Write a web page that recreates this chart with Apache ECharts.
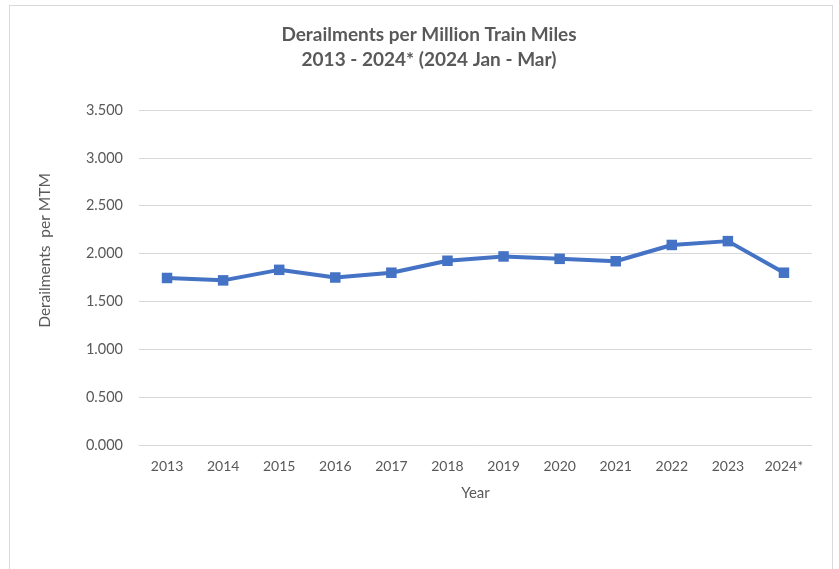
<!DOCTYPE html>
<html>
<head>
<meta charset="utf-8">
<script src="https://cdn.jsdelivr.net/npm/echarts@6/dist/echarts.min.js"></script>
<style>
  html, body { margin: 0; padding: 0; background: #fff; }
  #frame { position: absolute; left: 9px; top: 5px; width: 822px; height: 580px; border: 1px solid #d9d9d9; }
  #chart { position: absolute; left: 0; top: 0; width: 839px; height: 569px; }
</style>
</head>
<body>
<div id="frame"></div>
<div id="chart"></div>
<script>
// categories + values
var years = ['2013', '2014', '2015', '2016', '2017', '2018', '2019', '2020', '2021', '2022', '2023', '2024*']
var derailRate = [1.745, 1.72, 1.83, 1.75, 1.80, 1.925, 1.97, 1.945, 1.92, 2.09, 2.13, 1.80]

var font = 'Lato, "Open Sans", sans-serif'
var grey = '#595959'

var chart = echarts.init(document.getElementById('chart'))
chart.setOption({
  animation: false,
  title: {
    text: 'Derailments per Million Train Miles\n2013 - 2024* (2024 Jan - Mar)',
    left: 424,
    textAlign: 'center',
    top: 17,
    textStyle: { fontFamily: font, fontSize: 19, fontWeight: 'bold', color: grey, lineHeight: 25 }
  },
  grid: { left: 139, right: 27, top: 110, bottom: 124 },
  xAxis: {
    type: 'category',
    data: years,
    boundaryGap: true,
    name: 'Year',
    nameLocation: 'middle',
    nameGap: 41,
    nameTextStyle: { fontFamily: font, fontSize: 15, color: grey },
    axisLine: { lineStyle: { color: '#d9d9d9', width: 1 } },
    axisTick: { show: false },
    axisLabel: { margin: 14, fontFamily: font, fontSize: 14, color: grey }
  },
  yAxis: {
    type: 'value',
    min: 0,
    max: 3.5,
    interval: 0.5,
    name: 'Derailments  per MTM',
    nameLocation: 'middle',
    nameGap: 86,
    nameRotate: 90,
    nameTextStyle: { fontFamily: font, fontSize: 15.5, color: grey, padding: [0, 0, 0, 54] },
    axisLine: { show: false },
    axisTick: { show: false },
    splitLine: { lineStyle: { color: '#d9d9d9', width: 1 } },
    axisLabel: {
      margin: 16,
      fontFamily: font,
      fontSize: 14.5,
      color: grey,
      formatter: function (v) { return v.toFixed(3) }
    }
  },
  series: [{
    type: 'line',
    data: derailRate,
    symbol: 'rect',
    symbolSize: 10.5,
    lineStyle: { color: '#4472c4', width: 4 },
    itemStyle: { color: '#4472c4' }
  }]
})
</script>
</body>
</html>
